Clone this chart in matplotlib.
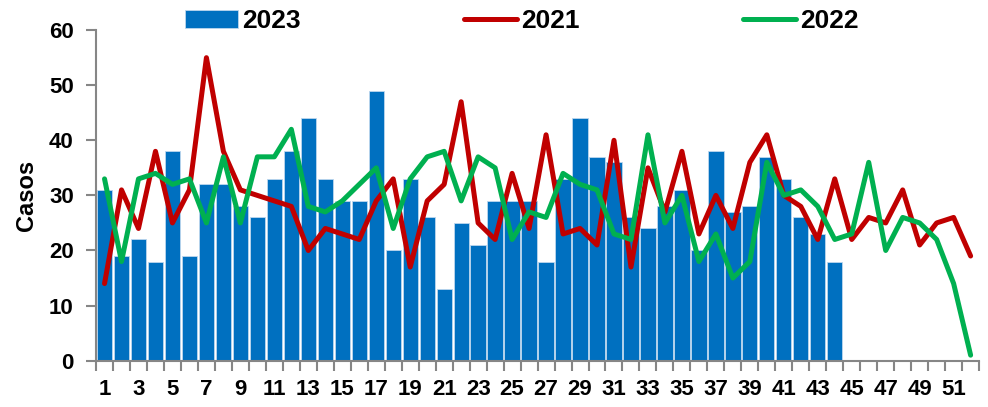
import numpy as np
import matplotlib
matplotlib.use("Agg")
import matplotlib.pyplot as plt

plt.rcParams['font.family'] = ['Liberation Sans Narrow', 'Liberation Sans', 'DejaVu Sans']
plt.rcParams['font.weight'] = 'bold'

semanas = list(range(1, 53))

casos_2023 = [31, 19, 22, 18, 38, 19, 32, 32, 28, 26, 33, 38, 44, 33, 29, 29, 49, 20, 33, 26,
              13, 25, 21, 29, 29, 29, 18, 33, 44, 37, 36, 26, 24, 28, 31, 20, 38, 27, 28, 37,
              33, 26, 23, 18]
casos_2021 = [14, 31, 24, 38, 25, 31, 55, 38, 31, 30, 29, 28, 20, 24, 23, 22, 29, 33, 17, 29,
              32, 47, 25, 22, 34, 24, 41, 23, 24, 21, 40, 17, 35, 27, 38, 23, 30, 24, 36, 41,
              30, 28, 22, 33, 22, 26, 25, 31, 21, 25, 26, 19]
casos_2022 = [33, 18, 33, 34, 32, 33, 25, 37, 25, 37, 37, 42, 28, 27, 29, 32, 35, 24, 33, 37,
              38, 29, 37, 35, 22, 27, 26, 34, 32, 31, 23, 22, 41, 25, 30, 18, 23, 15, 18, 36,
              30, 31, 28, 22, 23, 36, 20, 26, 25, 22, 14, 1]

fig = plt.figure(figsize=(9.88, 4.07), dpi=100)
ax = fig.add_axes([0.0972, 0.1138, 0.8938, 0.8122])

gris = '#868686'

b = ax.bar(semanas[:len(casos_2023)], casos_2023, width=0.9, color='#0070C0',
           edgecolor='#BDD7EE', linewidth=0.6, label='2023', zorder=2)
l1, = ax.plot(semanas, casos_2021, color='#C00000', lw=3.6, label='2021', zorder=3,
              solid_joinstyle='round', solid_capstyle='round')
l2, = ax.plot(semanas, casos_2022, color='#00B050', lw=3.6, label='2022', zorder=4,
              solid_joinstyle='round', solid_capstyle='round')

ax.set_xlim(0.5, 52.5)
ax.set_ylim(0, 60)
ax.set_yticks(range(0, 61, 10))
ax.set_xticks(range(1, 53, 2))
ax.set_xticks(np.arange(0.5, 53, 1), minor=True)
ax.tick_params(axis='x', which='major', length=0, pad=13, labelsize=16)
ax.tick_params(axis='x', which='minor', length=7, width=1.5, color=gris)
ax.tick_params(axis='y', length=7, width=1.5, color=gris, labelsize=16, pad=9)
for s in ['top', 'right']:
    ax.spines[s].set_visible(False)
for s in ['left', 'bottom']:
    ax.spines[s].set_color(gris)
    ax.spines[s].set_linewidth(1.5)

ax.set_ylabel('Casos', fontsize=17, fontweight='bold', labelpad=8)

fig.legend(handles=[b, l1, l2], labels=['2023', '2021', '2022'], loc='center',
           bbox_to_anchor=(0.528, 0.948), ncol=3, frameon=False, fontsize=19,
           handlelength=2.0, handletextpad=0.15, columnspacing=6.2, handleheight=0.7)

fig.savefig('out.png', dpi=100)
